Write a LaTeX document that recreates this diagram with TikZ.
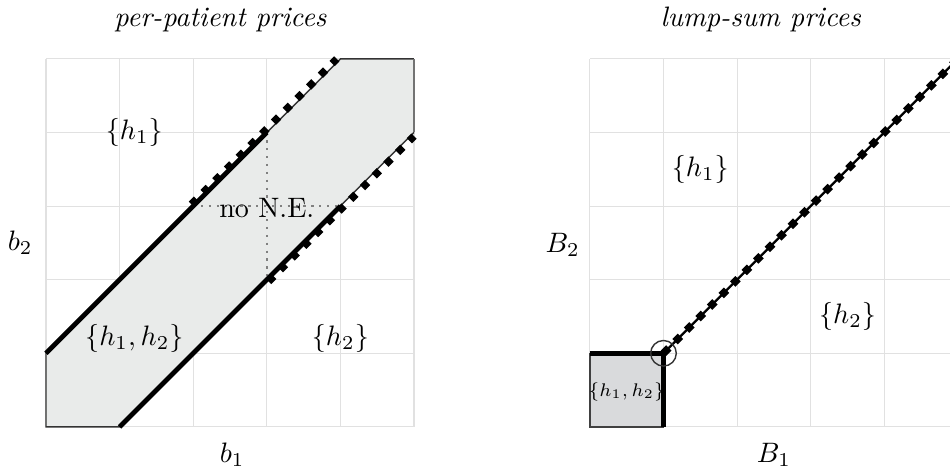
\documentclass[tikz,border=0pt]{standalone}
\usepackage{amsmath}
\usepackage{tikz}
\usetikzlibrary{calc, positioning}
\definecolor{gridgray}{RGB}{225,225,225}
\definecolor{bandfill}{RGB}{233,235,234}
\definecolor{boxfill}{RGB}{217,218,220}

\begin{document}
\begin{tikzpicture}[x=0.92cm, y=0.92cm,
  solidedge/.style={line width=1.7pt},
  markedge/.style={line width=2.6pt, dash pattern=on 2.6pt off 3.3pt},
  gridline/.style={gridgray, line width=0.4pt}]
  \useasboundingbox (-0.625,-0.584) rectangle (12.283,5.80);
  % per-patient prices
  \begin{scope}[shift={(0,0)}]
    \foreach \i in {0,...,5} {
      \draw[gridline] (\i,0) -- (\i,5);
      \draw[gridline] (0,\i) -- (5,\i);
    }
    \coordinate (La) at (0,0);
    \coordinate (Lb) at (0,1);
    \coordinate (Lc) at (4,5);
    \coordinate (Ld) at (5,5);
    \coordinate (Le) at (5,4);
    \coordinate (Lf) at (1,0);
    \fill[bandfill] (La) -- (Lb) -- (Lc) -- (Ld) -- (Le) -- (Lf) -- cycle;
    \draw[black!80, line width=0.5pt] (Le) -- (Lf) -- (La) -- (Lb) -- (Lc) -- (Ld);
    \draw[black!55, line width=0.7pt] (Ld) -- (Le);
    \coordinate (Up1) at (2,3);
    \coordinate (Up2) at (3,4);
    \coordinate (Lo1) at (3,2);
    \coordinate (Lo2) at (4,3);
    \draw[black!50, dotted, thick] (Up1) -- (Lo2);
    \draw[black!50, dotted, thick] (Up2) -- (Lo1);
    \draw[solidedge] (Lb) -- (Up2);
    \draw[solidedge] (Lf) -- (Lo2);
    \draw[markedge] ($(Up1)+(-0.025,0.025)$) -- ($(Lc)+(-0.05,0)$);
    \draw[markedge] ($(Lo1)+(0.025,-0.025)$) -- ($(Le)+(0,-0.05)$);
    \node[font=\itshape] (ttlL) at (2.37,5.53) {per-patient prices};
    \node (bA) at (2.53,-0.38) {$b_1$};
    \node (bB) at (-0.35,2.5) {$b_2$};
    \node (hAL) at (1.2,4) {$\{h_1\}$};
    \node (hABL) at (1.2,1.2) {$\{h_1,h_2\}$};
    \node (hBL) at (4,1.2) {$\{h_2\}$};
    \node (noNE) at (3,2.97) {no N.E.};
  \end{scope}
  % lump-sum prices
  \begin{scope}[shift={(7.39,0)}]
    \foreach \i in {0,...,5} {
      \draw[gridline] (\i,0) -- (\i,5);
      \draw[gridline] (0,\i) -- (5,\i);
    }
    \coordinate (Ra) at (0,0);
    \coordinate (Rb) at (0,1);
    \coordinate (Rc) at (1,1);
    \coordinate (Rd) at (1,0);
    \coordinate (Re) at (5,5);
    \filldraw[fill=boxfill, draw=black!75, line width=0.5pt] (Ra) rectangle (Rc);
    \draw[solidedge] (Rb) -- (Rc) -- (Rd);
    \draw[line width=0.8pt] (Rc) -- (Re);
    \draw[markedge, line width=2.7pt, dash pattern=on 2.7pt off 3.1pt] (Rc) -- (Re);
    \node[circle, draw=black!80, line width=0.5pt, minimum size=0.32cm, inner sep=0pt] (kink) at (Rc) {};
    \node[font=\itshape] (ttlR) at (2.32,5.53) {lump-sum prices};
    \node (BA) at (2.5,-0.38) {$B_1$};
    \node (BB) at (-0.37,2.47) {$B_2$};
    \node (hAR) at (1.5,3.5) {$\{h_1\}$};
    \node (hBR) at (3.5,1.5) {$\{h_2\}$};
    \node[font=\scriptsize, scale=0.93] (hABR) at (0.5,0.48) {$\{h_1,h_2\}$};
  \end{scope}
\end{tikzpicture}
\end{document}
